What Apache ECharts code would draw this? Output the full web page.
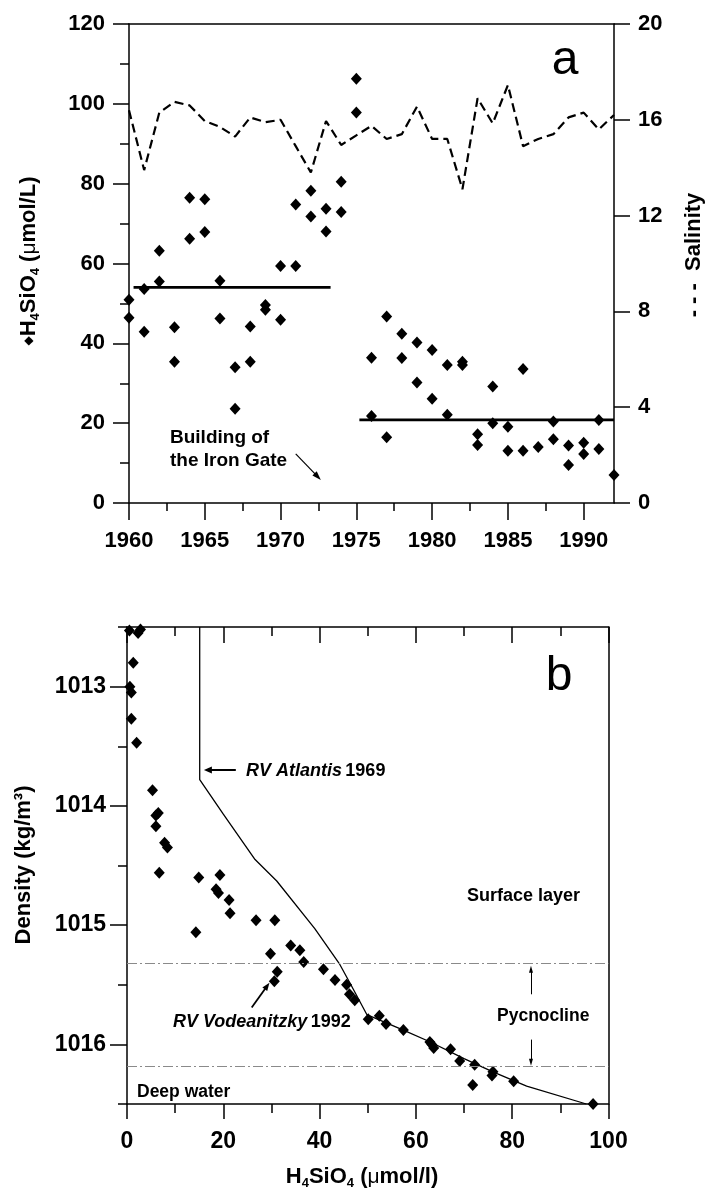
<!DOCTYPE html>
<html>
<head>
<meta charset="utf-8">
<script src="https://cdn.jsdelivr.net/npm/echarts@6/dist/echarts.min.js"></script>
<style>
  html, body { margin: 0; padding: 0; background: #fff; }
  #chart { width: 709px; height: 1191px; }
</style>
</head>
<body>
<div id="chart"></div>
<script>
// panel a: silicate at the Danube mouth, by year
const siYear = [1960, 1960, 1961, 1961, 1962, 1962, 1963, 1963, 1964, 1964, 1965, 1965,
  1966, 1966, 1967, 1967, 1968, 1968, 1969, 1969, 1970, 1970, 1971, 1971, 1972, 1972,
  1973, 1973, 1974, 1974, 1975, 1975, 1976, 1976, 1977, 1977, 1978, 1978, 1979, 1979,
  1980, 1980, 1981, 1981, 1982, 1982, 1983, 1983, 1984, 1984, 1985, 1985, 1986, 1986,
  1987, 1988, 1988, 1989, 1989, 1990, 1990, 1991, 1991, 1992];
const siConc = [50.9, 46.4, 53.6, 42.9, 63.2, 55.5, 44.0, 35.4, 76.5, 66.2, 76.1, 67.9,
  55.7, 46.2, 34.0, 23.6, 44.2, 35.4, 49.6, 48.4, 59.4, 45.9, 74.8, 59.4, 78.2, 71.8,
  73.7, 68.0, 80.5, 72.9, 106.3, 97.8, 36.4, 21.8, 46.7, 16.5, 42.4, 36.3, 40.2, 30.2,
  38.3, 26.1, 34.6, 22.1, 35.4, 34.6, 17.2, 14.5, 29.2, 20.0, 19.1, 13.1, 33.6, 13.1,
  14.0, 20.4, 16.0, 14.4, 9.5, 15.1, 12.3, 20.8, 13.5, 7.0];

const salYear = [1960, 1961, 1962, 1963, 1964, 1965, 1966, 1967, 1968, 1969, 1970, 1971,
  1972, 1973, 1974, 1975, 1976, 1977, 1978, 1979, 1980, 1981, 1982, 1983, 1984, 1985,
  1986, 1987, 1988, 1989, 1990, 1991, 1992];
const salinity = [16.4, 13.9, 16.3, 16.75, 16.6, 15.95, 15.7, 15.3, 16.1, 15.9, 16.0, 14.9,
  13.8, 15.95, 14.95, 15.35, 15.75, 15.2, 15.4, 16.55, 15.2, 15.2, 13.1, 16.9, 15.85, 17.45,
  14.9, 15.2, 15.4, 16.1, 16.3, 15.6, 16.2];

const meanBefore = { years: [1960.3, 1973.3], value: 54 };
const meanAfter = { years: [1975.2, 1992], value: 20.8 };
const yearMinorTicks = [1962.5, 1967.5, 1972.5, 1977.5, 1982.5, 1987.5];

// panel b: silicate against density
const bConc = [0.5, 2.3, 2.8, 1.3, 0.6, 0.9, 0.9, 2.0, 5.3, 6.0, 6.5, 6.0, 7.8, 8.4,
  6.7, 14.9, 19.3, 18.5, 19.0, 21.2, 21.4, 26.8, 30.7, 14.3, 34.0, 35.9, 29.8, 36.7,
  40.8, 31.2, 30.6, 43.2, 45.6, 46.2, 47.3, 50.1, 52.4, 53.8, 57.4, 62.9, 63.7, 63.3,
  67.2, 69.1, 72.2, 71.8, 76.0, 75.8, 80.3, 96.8];
const bDens = [1012.53, 1012.55, 1012.52, 1012.8, 1013.0, 1013.05, 1013.27, 1013.47,
  1013.87, 1014.08, 1014.06, 1014.17, 1014.31, 1014.35, 1014.56, 1014.6, 1014.58,
  1014.7, 1014.73, 1014.79, 1014.9, 1014.96, 1014.96, 1015.06, 1015.17, 1015.21,
  1015.24, 1015.31, 1015.37, 1015.39, 1015.47, 1015.46, 1015.5, 1015.58, 1015.63,
  1015.79, 1015.76, 1015.83, 1015.88, 1015.98, 1016.03, 1016.0, 1016.04, 1016.14,
  1016.17, 1016.34, 1016.23, 1016.26, 1016.31, 1016.5];

const atlConc = [15.1, 15.1, 20, 26.6, 31.1, 39.0, 44.2, 46.5, 49.8, 57.4, 63, 70, 76, 83, 95.4];
const atlDens = [1012.5, 1013.78, 1014.07, 1014.45, 1014.63, 1015.03, 1015.33, 1015.5,
  1015.75, 1015.88, 1015.98, 1016.12, 1016.23, 1016.35, 1016.5];

const pycnoBounds = [1015.32, 1016.18];
const densTicks = [1013, 1014, 1015, 1016];

const zip = (a, b) => a.map((v, i) => [v, b[i]]);

const FONT = '"Liberation Sans", Arial, sans-serif';
const BLACK = '#000';
const lineSt = { color: BLACK, width: 1.5 };
const tickLabel = { fontFamily: FONT, fontWeight: 'bold', fontSize: 22, color: BLACK };
const dot = { color: BLACK, opacity: 1 };

const chart = echarts.init(document.getElementById('chart'));

function arrowLine(from, to, width, head) {
  return {
    silent: true,
    symbol: ['none', 'triangle'],
    symbolSize: head,
    label: { show: false },
    lineStyle: { color: BLACK, width: width, type: 'solid' },
    itemStyle: { color: BLACK },
    data: [[{ coord: from }, { coord: to }]],
    animation: false
  };
}

function txt(x, y, text, size, opts) {
  return Object.assign({
    type: 'text', x: x, y: y, silent: true,
    style: {
      text: text, fill: BLACK,
      font: 'bold ' + size + 'px ' + FONT,
      align: 'left', textAlign: 'left',
      verticalAlign: 'middle', textVerticalAlign: 'middle'
    }
  }, opts || {});
}

const sub = { fontFamily: FONT, fontWeight: 'bold', fontSize: 13, verticalAlign: 'bottom', lineHeight: 13, fill: BLACK };
const base = { fontFamily: FONT, fontWeight: 'bold', fontSize: 22, lineHeight: 26, fill: BLACK };

chart.setOption({
  animation: false,
  backgroundColor: '#fff',
  grid: [
    { left: 129, top: 24, width: 485, height: 479, outerBoundsMode: 'none' },
    { left: 127, top: 627, width: 481.5, height: 477, outerBoundsMode: 'none' }
  ],
  xAxis: [
    {
      gridIndex: 0, type: 'value', position: 'bottom', min: 1960, max: 1992, interval: 5,
      axisLine: { show: true, onZero: false, lineStyle: lineSt },
      axisTick: { show: true, length: 17, lineStyle: lineSt },
      axisLabel: Object.assign({ margin: 27, showMaxLabel: false,
        formatter: v => (v % 5 === 0 ? String(v) : '') }, tickLabel),
      splitLine: { show: false }
    },
    {
      gridIndex: 0, type: 'value', position: 'top', min: 1960, max: 1992,
      axisLine: { show: true, onZero: false, lineStyle: lineSt },
      axisTick: { show: false }, axisLabel: { show: false }, splitLine: { show: false }
    },
    {
      gridIndex: 1, type: 'value', position: 'bottom', min: 0, max: 100, interval: 20,
      axisLine: { show: true, onZero: false, lineStyle: lineSt },
      axisTick: { show: true, length: 15, lineStyle: lineSt },
      minorTick: { show: true, splitNumber: 2, length: 9, lineStyle: lineSt },
      axisLabel: Object.assign({ margin: 26 }, tickLabel, { fontSize: 23 }),
      splitLine: { show: false }
    },
    {
      gridIndex: 1, type: 'value', position: 'top', min: 0, max: 100, interval: 20,
      axisLine: { show: true, onZero: false, lineStyle: lineSt },
      axisTick: { show: true, inside: true, length: 16, lineStyle: lineSt },
      minorTick: { show: true, splitNumber: 2, length: 9, lineStyle: lineSt },
      axisLabel: { show: false }, splitLine: { show: false }
    },
    {
      // minor year ticks of panel a
      gridIndex: 0, type: 'value', position: 'bottom', min: 1960, max: 1992,
      axisLine: { show: false },
      axisTick: { show: true, length: 8, lineStyle: lineSt, customValues: yearMinorTicks },
      axisLabel: { show: false }, splitLine: { show: false }
    }
  ],
  yAxis: [
    {
      gridIndex: 0, type: 'value', position: 'left', min: 0, max: 120, interval: 20,
      axisLine: { show: true, onZero: false, lineStyle: lineSt },
      axisTick: { show: true, length: 16, lineStyle: lineSt },
      minorTick: { show: true, splitNumber: 2, length: 9, lineStyle: lineSt },
      axisLabel: Object.assign({ margin: 24 }, tickLabel),
      splitLine: { show: false }
    },
    {
      gridIndex: 0, type: 'value', position: 'right', min: 0, max: 20, interval: 4,
      axisLine: { show: true, onZero: false, lineStyle: lineSt },
      axisTick: { show: true, length: 16, lineStyle: lineSt },
      axisLabel: Object.assign({ margin: 24 }, tickLabel),
      splitLine: { show: false }
    },
    {
      gridIndex: 1, type: 'value', position: 'left', min: 1012.5, max: 1016.5, inverse: true,
      axisLine: { show: true, onZero: false, lineStyle: lineSt },
      axisTick: { show: true, length: 17, lineStyle: lineSt, customValues: densTicks },
      axisLabel: Object.assign({ margin: 21, customValues: densTicks, formatter: v => String(v) },
        tickLabel, { fontSize: 23 }),
      splitLine: { show: false }
    },
    {
      gridIndex: 1, type: 'value', position: 'left', min: 1012.5, max: 1016.5, interval: 0.5, inverse: true,
      axisLine: { show: false },
      axisTick: { show: true, length: 9, lineStyle: lineSt },
      axisLabel: { show: false }, splitLine: { show: false }
    },
    {
      gridIndex: 1, type: 'value', position: 'right', min: 1012.5, max: 1016.5, inverse: true,
      axisLine: { show: true, onZero: false, lineStyle: lineSt },
      axisTick: { show: false }, axisLabel: { show: false }, splitLine: { show: false }
    }
  ],
  series: [
    {
      name: 'H4SiO4', type: 'scatter', xAxisIndex: 0, yAxisIndex: 0,
      symbol: 'diamond', symbolSize: [11, 12], itemStyle: dot,
      data: zip(siYear, siConc)
    },
    {
      name: 'Salinity', type: 'line', xAxisIndex: 0, yAxisIndex: 1,
      showSymbol: false, symbol: 'none',
      lineStyle: { color: BLACK, width: 2.2, type: [9, 5] },
      data: zip(salYear, salinity)
    },
    {
      name: 'mean 1960-1973', type: 'line', xAxisIndex: 0, yAxisIndex: 0, symbol: 'none',
      lineStyle: { color: BLACK, width: 2.7 },
      data: meanBefore.years.map(y => [y, meanBefore.value]),
      markLine: arrowLine([1971.0, 12.3], [1972.45, 6.6], 1.2, [6, 9])
    },
    {
      name: 'mean 1975-1992', type: 'line', xAxisIndex: 0, yAxisIndex: 0, symbol: 'none',
      lineStyle: { color: BLACK, width: 2.7 },
      data: meanAfter.years.map(y => [y, meanAfter.value])
    },
    {
      name: 'RV Vodeanitzky 1992', type: 'scatter', xAxisIndex: 2, yAxisIndex: 2,
      symbol: 'diamond', symbolSize: [11, 12], itemStyle: dot,
      data: zip(bConc, bDens),
      markLine: {
        silent: true, symbol: ['none', 'none'], label: { show: false },
        lineStyle: { color: '#8a8a8a', width: 1, type: [10, 3, 2, 3] },
        data: pycnoBounds.map(d => ({ yAxis: d }))
      }
    },
    {
      name: 'RV Atlantis 1969', type: 'line', xAxisIndex: 2, yAxisIndex: 2, symbol: 'none',
      lineStyle: { color: BLACK, width: 1.3 },
      data: zip(atlConc, atlDens),
      markLine: arrowLine([22.6, 1013.7], [16.8, 1013.7], 2, [7, 8])
    },
    {
      name: 'arrow vod', type: 'line', xAxisIndex: 2, yAxisIndex: 2, symbol: 'none', data: [],
      markLine: arrowLine([25.9, 1015.69], [29.1, 1015.51], 1.8, [6, 8])
    },
    {
      name: 'arrow up', type: 'line', xAxisIndex: 2, yAxisIndex: 2, symbol: 'none', data: [],
      markLine: arrowLine([83.9, 1015.58], [83.9, 1015.37], 1, [4, 7])
    },
    {
      name: 'arrow down', type: 'line', xAxisIndex: 2, yAxisIndex: 2, symbol: 'none', data: [],
      markLine: arrowLine([83.9, 1015.96], [83.9, 1016.15], 1, [4, 7])
    }
  ],
  graphic: [
    // panel letters
    { type: 'text', x: 565, y: 61, silent: true,
      style: { text: 'a', fill: BLACK, font: '48px ' + FONT, align: 'center', textAlign: 'center',
        verticalAlign: 'middle', textVerticalAlign: 'middle' } },
    { type: 'text', x: 559, y: 677, silent: true,
      style: { text: 'b', fill: BLACK, font: '48px ' + FONT, align: 'center', textAlign: 'center',
        verticalAlign: 'middle', textVerticalAlign: 'middle' } },
    // axis names
    { type: 'text', x: 29, y: 261, rotation: Math.PI / 2, silent: true,
      style: {
        text: '{d|\u25C6}{b|H}{s|4}{b|SiO}{s|4}{b| (}{m|\u03BC}{b|mol/L)}',
        align: 'center', textAlign: 'center', verticalAlign: 'middle', textVerticalAlign: 'middle',
        rich: {
          b: base, s: sub,
          d: { fontFamily: '"DejaVu Sans"', fontSize: 12, lineHeight: 26, fill: BLACK },
          m: { fontFamily: FONT, fontSize: 21, lineHeight: 26, fill: BLACK }
        }
      } },
    { type: 'text', x: 694, y: 255, rotation: Math.PI / 2, silent: true,
      style: {
        text: '{b|- - -  Salinity}',
        align: 'center', textAlign: 'center', verticalAlign: 'middle', textVerticalAlign: 'middle',
        rich: { b: base }
      } },
    { type: 'text', x: 24, y: 865, rotation: Math.PI / 2, silent: true,
      style: {
        text: '{b|Density (kg/m\u00B3)}',
        align: 'center', textAlign: 'center', verticalAlign: 'middle', textVerticalAlign: 'middle',
        rich: { b: base }
      } },
    { type: 'text', x: 362, y: 1177, silent: true,
      style: {
        text: '{b|H}{s|4}{b|SiO}{s|4}{b| (}{m|\u03BC}{b|mol/l)}',
        align: 'center', textAlign: 'center', verticalAlign: 'middle', textVerticalAlign: 'middle',
        rich: {
          b: base, s: sub,
          m: { fontFamily: FONT, fontSize: 21, lineHeight: 26, fill: BLACK }
        }
      } },
    // annotations
    { type: 'text', x: 170, y: 426, silent: true,
      style: { text: 'Building of\nthe Iron Gate', fill: BLACK, font: 'bold 19px ' + FONT,
        lineHeight: 23, align: 'left', textAlign: 'left', verticalAlign: 'top', textVerticalAlign: 'top' } },
    { type: 'text', x: 246, y: 771, silent: true,
      style: {
        text: '{i|RV Atlantis} {b|1969}',
        align: 'left', textAlign: 'left', verticalAlign: 'middle', textVerticalAlign: 'middle',
        rich: {
          i: { fontFamily: FONT, fontWeight: 'bold', fontStyle: 'italic', fontSize: 18, fill: BLACK },
          b: { fontFamily: FONT, fontWeight: 'bold', fontSize: 18, fill: BLACK }
        }
      } },
    { type: 'text', x: 173, y: 1022, silent: true,
      style: {
        text: '{i|RV Vodeanitzky} {b|1992}',
        align: 'left', textAlign: 'left', verticalAlign: 'middle', textVerticalAlign: 'middle',
        rich: {
          i: { fontFamily: FONT, fontWeight: 'bold', fontStyle: 'italic', fontSize: 18, fill: BLACK },
          b: { fontFamily: FONT, fontWeight: 'bold', fontSize: 18, fill: BLACK }
        }
      } },
    txt(467, 896, 'Surface layer', 18),
    txt(497, 1016, 'Pycnocline', 17.5),
    txt(137, 1092, 'Deep water', 17.5)
  ]
});
</script>
</body>
</html>
